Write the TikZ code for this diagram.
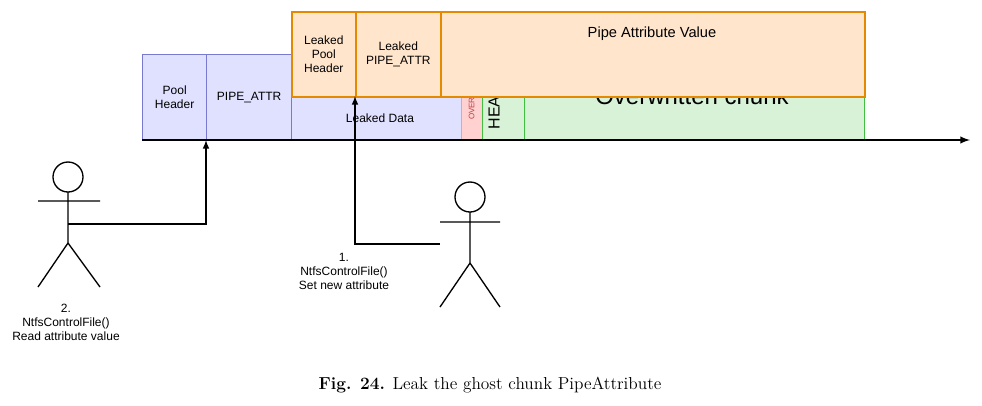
\documentclass[tikz,border=0pt]{standalone}
\usepackage{fontspec}
\newfontfamily\arial{Liberation Sans}
\begin{document}
\begin{tikzpicture}[x=0.75pt,y=-0.75pt,
 blue/.style={draw=blue!50!gray!70,fill=blue!12,line width=1pt},
 ora/.style={draw=orange!80!yellow!90!black,fill=orange!20,line width=1.2pt},
 lbl/.style={font=\arial\fontsize{9}{10.5}\selectfont,align=center},
 fig/.style={line width=1pt},
 conn/.style={line width=1.2pt,-latex}]
\useasboundingbox (0,0) rectangle (982,405);
\node[blue,minimum width=64*0.75pt,minimum height=86*0.75pt,anchor=north west,lbl] (ph) at (142,54) {Pool\\Header};
\node[blue,minimum width=85*0.75pt,minimum height=86*0.75pt,anchor=north west,lbl] (pa) at (206,54) {PIPE\_ATTR};
\node[blue,minimum width=170*0.75pt,minimum height=86*0.75pt,anchor=north west] (ld) at (291,54) {};
\node[lbl] at (380,118) {Leaked Data};
\node[draw=red!40,fill=red!18,line width=1pt,minimum width=21*0.75pt,minimum height=86*0.75pt,anchor=north west] (ov) at (461,54) {};
\node[draw=green!50!gray,fill=green!12!white!90!gray,line width=1pt,minimum width=42*0.75pt,minimum height=86*0.75pt,anchor=north west] (hd) at (482,54) {};
\node[draw=green!50!gray,fill=green!12!white!90!gray,line width=1pt,minimum width=340*0.75pt,minimum height=86*0.75pt,anchor=north west] (ow) at (524,54) {};
\node[rotate=90,font=\arial\fontsize{6}{7}\selectfont,text=red!50!gray] at (471.5,97) {OVERFLOW};
\node[rotate=90,font=\arial\fontsize{12}{14}\selectfont] at (494,96) {HEADER};
\node[font=\arial\fontsize{18}{20}\selectfont] at (692,96) {Overwritten chunk};
\node[ora,minimum width=64*0.75pt,minimum height=85*0.75pt,anchor=north west,lbl] (lph) at (291,11) {Leaked\\Pool\\Header};
\node[ora,minimum width=85*0.75pt,minimum height=85*0.75pt,anchor=north west,lbl] (lpa) at (355,11) {Leaked\\PIPE\_ATTR};
\node[ora,minimum width=424*0.75pt,minimum height=85*0.75pt,anchor=north west] (pav) at (440,11) {};
\node[font=\arial\fontsize{11}{13}\selectfont] at (652,34) {Pipe Attribute Value};
\coordinate (a0) at (142,140); \coordinate (a1) at (970,140);
\draw[line width=1.5pt,-latex] (a0) -- (a1);
% left figure
\draw[fig] (68,177) circle (15);
\draw[fig] (68,192) -- (68,243) (38,201) -- (100,201) (68,243) -- (38,287) (68,243) -- (100,287);
% right figure
\draw[fig] (470,197) circle (15);
\draw[fig] (470,212) -- (470,263) (440,222) -- (500,222) (470,263) -- (440,307) (470,263) -- (500,307);
\coordinate (s1) at (68,224); \coordinate (t1) at (206,140);
\draw[conn] (s1) -| (t1);
\coordinate (s2) at (440,244); \coordinate (t2) at (355,96);
\draw[conn] (s2) -| (t2);
\node[lbl] (l1) at (344,271) {1.\\NtfsControlFile()\\Set new attribute};
\node[lbl] (l2) at (66,322) {2.\\NtfsControlFile()\\Read attribute value};
\node[font=\fontsize{13}{15}\selectfont] (cap) at (490,385) {\textbf{Fig. 24.} Leak the ghost chunk PipeAttribute};
\end{tikzpicture}
\end{document}
